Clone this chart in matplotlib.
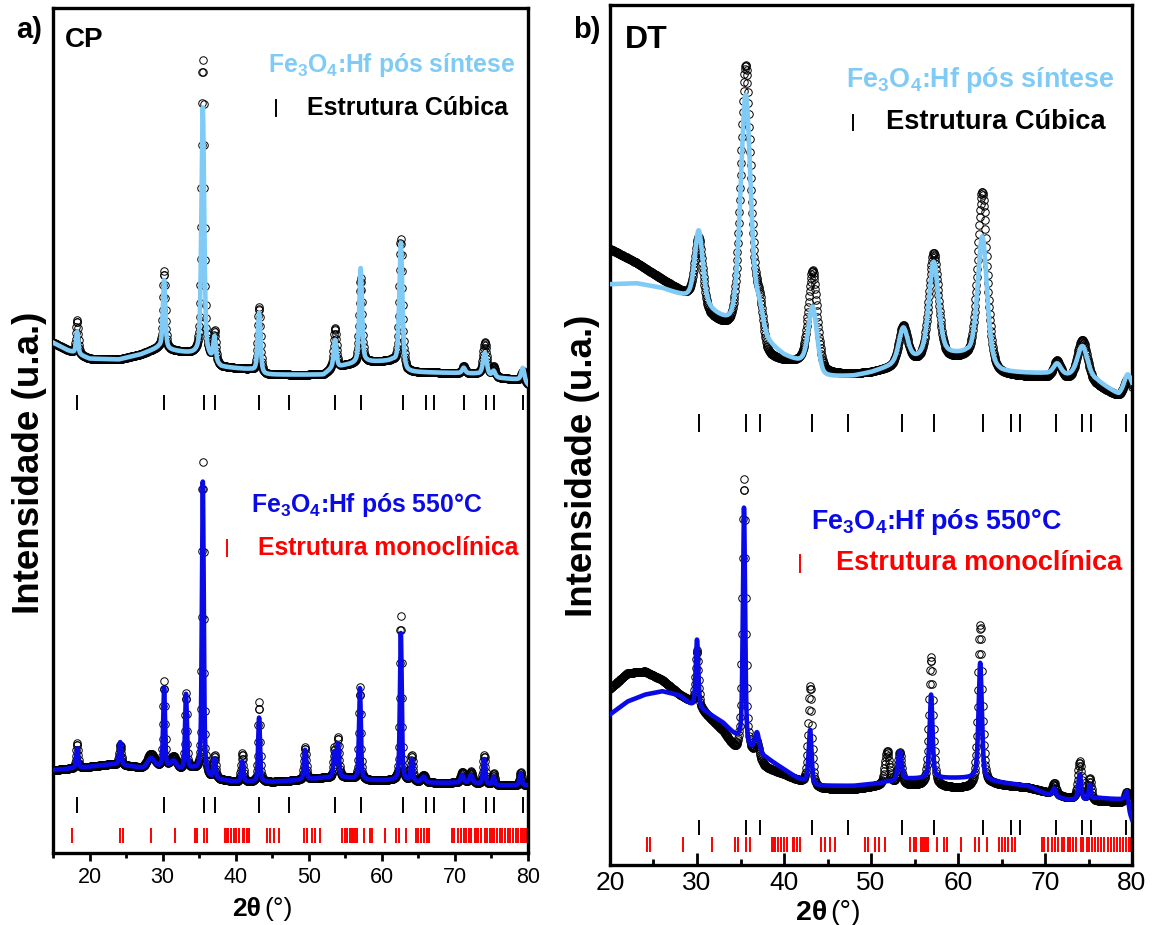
import numpy as np
import matplotlib
matplotlib.use('Agg')
import matplotlib.pyplot as plt
from matplotlib.ticker import MultipleLocator

plt.rcParams['font.family'] = ['Liberation Sans', 'DejaVu Sans']
plt.rcParams['mathtext.fontset'] = 'custom'
plt.rcParams['mathtext.rm'] = 'Liberation Sans:bold'
plt.rcParams['mathtext.bf'] = 'Liberation Sans:bold'
plt.rcParams['mathtext.it'] = 'Liberation Sans:bold:italic'

# ---------------- reference reflections ----------------
cubic_ticks = [18.3, 30.2, 35.6, 37.2, 43.2, 47.3, 53.6, 57.2, 62.85, 66.1, 67.1,
               71.3, 74.3, 75.3, 79.3]
mono_ticks = [17.6, 24.2, 24.6, 28.4, 31.7, 34.4, 34.7, 35.6, 36.1, 38.6, 38.8, 39.0,
              39.3, 39.7, 40.0, 40.4, 41.0, 41.2, 41.5, 41.8, 44.3, 44.7, 45.3, 45.9,
              49.3, 49.7, 50.5, 50.9, 51.6, 54.5, 54.9, 55.2, 55.7, 55.9, 56.1, 56.3,
              56.6, 57.6, 58.4, 58.7, 60.4, 61.9, 62.4, 63.3, 64.7, 65.0, 65.4, 65.8,
              66.2, 66.5, 69.6, 69.9, 70.4, 70.8, 71.2, 71.5, 71.9, 72.2, 72.7, 72.9,
              73.2, 73.6, 74.1, 74.4, 74.8, 75.1, 75.4, 75.8, 76.1, 76.4, 76.8, 77.2,
              77.6, 77.9, 78.3, 78.6, 79.0, 79.3, 79.6, 79.9]

# ---------------- panel a (CP), pós síntese ----------------
cp_syn_bg_x = [15, 17, 20, 24, 27, 29.5, 31, 34.5, 36.3, 38, 42, 44, 52, 53, 55, 58, 61.5, 63.5, 70, 73, 76, 79, 80]
cp_syn_bg_y = [60.4, 59.5, 58.5, 58.4, 59.0, 59.8, 59.5, 59.0, 58.5, 57.5, 57.2, 56.6, 56.6, 57.2, 57.7, 58.1, 58.2, 56.9, 56.8, 56.7, 56.2, 56.0, 55.4]
cp_syn_pk_pos = [18.3, 30.2, 35.5, 37.1, 43.2, 53.6, 57.1, 62.6, 71.2, 74.1, 75.3, 79.3]
cp_syn_fit_top = [61.7, 67.8, 88.2, 60.9, 63.9, 60.7, 69.2, 72.2, 57.4, 59.2, 57.0, 57.4]
cp_syn_obs_top = [63.1, 68.8, 93.8, 61.5, 64.6, 62.1, 68.0, 72.6, 57.6, 60.4, 57.5, 57.0]
cp_syn_pk_w = [0.35, 0.4, 0.45, 0.4, 0.45, 0.45, 0.45, 0.5, 0.5, 0.6, 0.5, 0.5]

# ---------------- panel a (CP), pós 550 °C ----------------
cp_550_bg_x = [15, 20, 23, 26, 27.5, 29.5, 32.3, 34.3, 36.5, 40, 45, 50, 52, 55, 58, 62, 66, 70, 73, 76, 80]
cp_550_bg_y = [9.8, 10.2, 10.5, 10.2, 9.9, 10.0, 9.7, 9.9, 8.8, 8.4, 8.4, 8.7, 8.9, 8.9, 8.6, 8.6, 8.3, 8.3, 8.2, 8.0, 8.0]
cp_550_pk_pos = [18.3, 24.2, 28.4, 30.2, 31.5, 33.2, 35.5, 37.1, 40.9, 43.2, 49.5, 53.5, 54.0, 57.0, 62.6, 64.1, 65.7, 71.0, 72.2, 74.0, 75.3, 79.0]
cp_550_fit_top = [12.4, 13.1, 11.2, 19.4, 10.8, 18.7, 43.9, 11.0, 10.8, 16.0, 12.2, 11.8, 12.8, 19.5, 26.0, 11.0, 9.0, 9.2, 9.2, 11.1, 9.0, 9.4]
cp_550_obs_top = [13.0, 12.8, 11.7, 20.1, 11.3, 18.8, 46.2, 11.4, 11.8, 17.9, 12.5, 12.3, 13.6, 19.6, 28.0, 11.5, 9.2, 9.6, 9.6, 11.6, 9.4, 9.6]
cp_550_pk_w = [0.3, 0.35, 1.2, 0.3, 1.0, 0.3, 0.3, 0.35, 0.35, 0.3, 0.35, 0.3, 0.35, 0.3, 0.3, 0.35, 0.6, 0.5, 0.5, 0.35, 0.35, 0.35]

# ---------------- panel b (DT), pós síntese ----------------
dt_syn_bg_x = [20, 23, 26, 29, 31, 34, 37, 38, 40, 42, 44.5, 48, 50, 52, 54.5, 56, 58, 61, 63.5, 65, 70, 72.5, 76, 78.5, 80]
dt_syn_fit_bg_y = [67.5, 67.6, 67.0, 65.8, 64.6, 62.3, 60.8, 60.3, 59.0, 58.2, 56.6, 56.8, 57.2, 57.8, 58.6, 58.8, 59.2, 59.2, 57.6, 57.2, 57.1, 56.8, 56.2, 54.6, 55.0]
dt_syn_obs_bg_y = [71.6, 70.0, 68.0, 66.0, 63.8, 61.6, 59.8, 58.5, 58.3, 58.2, 57.0, 57.0, 57.2, 57.6, 58.2, 58.4, 58.6, 58.6, 57.2, 56.8, 56.6, 56.3, 55.6, 54.4, 54.6]
dt_syn_pk_pos = [30.2, 35.6, 37.2, 43.3, 53.7, 57.2, 62.8, 71.4, 74.3, 79.5]
dt_syn_fit_top = [73.6, 89.4, 63.5, 64.8, 62.3, 70.0, 73.0, 58.2, 60.3, 57.0]
dt_syn_obs_top = [72.8, 92.8, 64.0, 69.0, 62.5, 71.0, 78.2, 58.5, 61.0, 56.5]
dt_syn_pk_w = [1.1, 1.4, 1.0, 1.2, 1.2, 1.3, 1.3, 1.0, 1.4, 1.0]

# ---------------- panel b (DT), pós 550 °C ----------------
dt_550_bg_x = [20, 22, 24, 26, 28, 29.5, 31, 33, 34.5, 36, 38, 40, 41.5, 43.5, 48, 52, 54.5, 58, 62, 64, 68, 70, 72.5, 74.8, 76, 79, 80]
dt_550_fit_bg_y = [17.5, 19.0, 19.8, 20.2, 19.7, 18.4, 17.8, 16.5, 14.9, 13.4, 12.4, 11.1, 10.1, 9.2, 9.2, 9.6, 10.0, 10.1, 10.1, 9.7, 9.2, 8.3, 7.6, 7.5, 7.8, 7.6, 5.2]
dt_550_obs_bg_y = [20.5, 22.3, 22.5, 21.5, 19.8, 18.8, 17.5, 15.5, 13.0, 12.8, 11.2, 10.5, 9.8, 8.8, 8.8, 9.3, 9.2, 9.0, 8.8, 9.3, 9.0, 8.5, 7.8, 7.5, 7.4, 7.3, 7.3]
dt_550_pk_pos = [30.0, 35.4, 36.9, 43.0, 51.85, 53.3, 56.9, 62.55, 71.05, 74.0, 75.15, 79.4]
dt_550_fit_top = [26.2, 41.5, 15.3, 15.7, 9.7, 13.2, 19.8, 23.5, 8.9, 10.5, 9.3, 8.5]
dt_550_obs_top = [25.0, 44.8, 14.0, 20.8, 13.2, 13.0, 24.1, 27.9, 9.5, 12.0, 10.0, 8.5]
dt_550_pk_w = [0.35, 0.3, 0.6, 0.4, 0.5, 0.5, 0.4, 0.45, 0.4, 0.4, 0.3, 0.4]
dt_550_obs_w = [0.4, 0.45, 0.6, 0.5, 0.6, 0.5, 0.55, 0.6, 0.5, 0.5, 0.4, 0.4]

LIGHT = '#80CBF5'
BLUE = '#0a0ae6'
RED = '#ff0000'


def pseudo_voigt(x, c, w, eta):
    d = (x - c) / w
    return eta / (1 + 4 * d ** 2) + (1 - eta) * np.exp(-4 * np.log(2) * d ** 2)


def profile(x, bgx, bgy, pos, top, wid, eta):
    y = np.interp(x, bgx, bgy)
    for c, t, w in zip(pos, top, wid):
        y = y + (t - np.interp(c, bgx, bgy)) * pseudo_voigt(x, c, w, eta)
    return y


fig = plt.figure(figsize=(11.57, 9.25), dpi=100)
W, H = 1157, 925


def px_axes(l, r, t, b):
    return fig.add_axes([l / W, 1 - b / H, (r - l) / W, (b - t) / H])


axA = px_axes(53, 528, 8, 853)
axB = px_axes(610, 1132, 5, 865)


def draw_pattern(ax, x0, fit_bg_x, fit_bg_y, obs_bg_y, pos, fit_top, obs_top, wid, obs_wid,
                 color, eta=0.5):
    xf = np.arange(x0, 80.001, 0.01)
    xo = np.arange(x0, 80.001, 0.05)
    yf = profile(xf, fit_bg_x, fit_bg_y, pos, fit_top, wid, eta)
    yo = profile(xo, fit_bg_x, obs_bg_y, pos, obs_top, obs_wid, eta)
    ax.plot(xo, yo, 'o', ms=5.4, mfc='none', mec='black', mew=0.7, zorder=2)
    ax.plot(xf, yf, '-', color=color, lw=3.3, zorder=3)


def tick_row(ax, positions, y0, y1, color, x0):
    p = [v for v in positions if v >= x0]
    ax.vlines(p, y0, y1, colors=color, lw=1.4, zorder=2)


# ---- panel a
draw_pattern(axA, 15, cp_syn_bg_x, cp_syn_bg_y, cp_syn_bg_y, cp_syn_pk_pos,
             cp_syn_fit_top, cp_syn_obs_top, cp_syn_pk_w, cp_syn_pk_w, LIGHT)
draw_pattern(axA, 15, cp_550_bg_x, cp_550_bg_y, cp_550_bg_y, cp_550_pk_pos,
             cp_550_fit_top, cp_550_obs_top, cp_550_pk_w, cp_550_pk_w, BLUE)
tick_row(axA, cubic_ticks, 52.4, 54.2, 'black', 15)
tick_row(axA, cubic_ticks, 4.7, 6.6, 'black', 15)
tick_row(axA, mono_ticks, 1.2, 3.0, RED, 15)
axA.set_xlim(15, 80)

# ---- panel b
draw_pattern(axB, 20, dt_syn_bg_x, dt_syn_fit_bg_y, dt_syn_obs_bg_y, dt_syn_pk_pos,
             dt_syn_fit_top, dt_syn_obs_top, dt_syn_pk_w, dt_syn_pk_w, LIGHT, eta=0.4)
draw_pattern(axB, 20, dt_550_bg_x, dt_550_fit_bg_y, dt_550_obs_bg_y, dt_550_pk_pos,
             dt_550_fit_top, dt_550_obs_top, dt_550_pk_w, dt_550_obs_w, BLUE)
tick_row(axB, cubic_ticks, 50.4, 52.4, 'black', 20)
tick_row(axB, cubic_ticks, 3.5, 5.2, 'black', 20)
tick_row(axB, mono_ticks, 1.5, 3.3, RED, 20)
axB.set_xlim(20, 80)

for ax, tdir, maj, mnr, fs in [(axA, 'out', 6, 3.5, 15.5), (axB, 'in', 9, 4.5, 19)]:
    ax.set_ylim(0, 100)
    ax.set_yticks([])
    ax.xaxis.set_major_locator(MultipleLocator(10))
    ax.xaxis.set_minor_locator(MultipleLocator(5))
    ax.tick_params(axis='x', which='major', direction=tdir, length=maj, width=2, labelsize=fs, pad=4)
    ax.tick_params(axis='x', which='minor', direction=tdir, length=mnr, width=2)
    for s in ax.spines.values():
        s.set_linewidth(2.4)

# ---- legends / annotations panel a
tA = axA.transAxes
axA.text(0.025, 0.962, 'CP', transform=tA, fontsize=20, fontweight='bold', va='center', ha='left')
axA.text(0.974, 0.933, r'Fe$_3$O$_4$:Hf pós síntese', transform=tA, fontsize=17.8, fontweight='bold',
         color=LIGHT, va='center', ha='right')
axA.plot([0.469, 0.469], [0.872, 0.891], transform=tA, color='black', lw=1.4)
axA.text(0.535, 0.882, 'Estrutura Cúbica', transform=tA, fontsize=18, fontweight='bold',
         va='center', ha='left')
axA.text(0.417, 0.412, r'Fe$_3$O$_4$:Hf pós 550°C', transform=tA, fontsize=17.8, fontweight='bold',
         color=BLUE, va='center', ha='left')
axA.plot([0.366, 0.366], [0.352, 0.370], transform=tA, color=RED, lw=1.4)
axA.text(0.432, 0.361, 'Estrutura monoclínica', transform=tA, fontsize=17.8, fontweight='bold',
         color=RED, va='center', ha='left')

# ---- legends / annotations panel b
tB = axB.transAxes
axB.text(0.029, 0.959, 'DT', transform=tB, fontsize=23, fontweight='bold', va='center', ha='left')
axB.text(0.9655, 0.9128, r'Fe$_3$O$_4$:Hf pós síntese', transform=tB, fontsize=19.4, fontweight='bold',
         color=LIGHT, va='center', ha='right')
axB.plot([0.4655, 0.4655], [0.855, 0.872], transform=tB, color='black', lw=1.4)
axB.text(0.5287, 0.864, 'Estrutura Cúbica', transform=tB, fontsize=19.6, fontweight='bold',
         va='center', ha='left')
axB.text(0.385, 0.399, r'Fe$_3$O$_4$:Hf pós 550°C', transform=tB, fontsize=19.4, fontweight='bold',
         color=BLUE, va='center', ha='left')
axB.plot([0.364, 0.364], [0.341, 0.360], transform=tB, color=RED, lw=1.4)
axB.text(0.433, 0.351, 'Estrutura monoclínica', transform=tB, fontsize=19.5, fontweight='bold',
         color=RED, va='center', ha='left')

# ---- figure-level labels
fig.text(29 / W, 1 - 30 / H, 'a)', fontsize=21, fontweight='bold', ha='center', va='center')
fig.text(587 / W, 1 - 30 / H, 'b)', fontsize=21, fontweight='bold', ha='center', va='center')
fig.text(30 / W, 1 - 463 / H, 'Intensidade (u.a.)', rotation=90, fontsize=26.5, fontweight='bold',
         ha='center', va='center')
fig.text(583 / W, 1 - 466 / H, 'Intensidade (u.a.)', rotation=90, fontsize=26.5, fontweight='bold',
         ha='center', va='center')
# x-axis titles: bold "2θ" followed by regular "(°)"
fig.text(261 / W, 1 - 909 / H, '2θ', fontsize=19, fontweight='bold', ha='right', va='center')
fig.text(264 / W, 1 - 909 / H, '(°)', fontsize=19, fontweight='normal', ha='left', va='center')
fig.text(827 / W, 1 - 913 / H, '2θ', fontsize=20.5, fontweight='bold', ha='right', va='center')
fig.text(830 / W, 1 - 913 / H, '(°)', fontsize=20.5, fontweight='normal', ha='left', va='center')

fig.savefig('out.png', dpi=100)
